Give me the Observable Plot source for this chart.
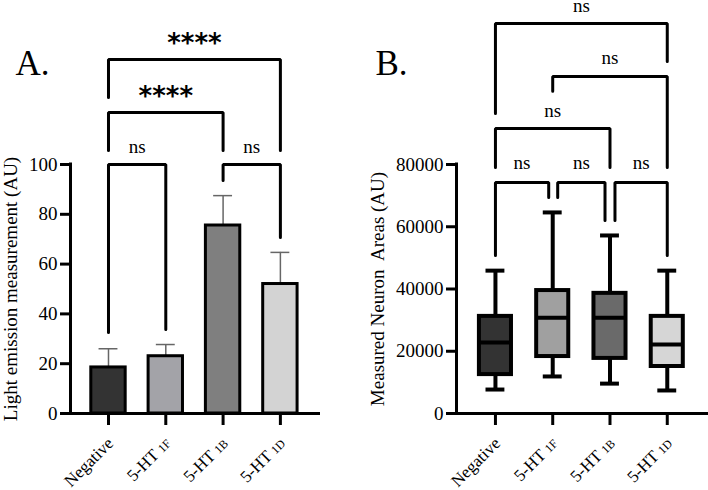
<!DOCTYPE html>
<html>
<head>
<meta charset="utf-8">
<script src="https://cdn.jsdelivr.net/npm/d3@7"></script>
<script src="https://cdn.jsdelivr.net/npm/@observablehq/plot@0.6"></script>
<style>
  body { margin: 0; background: #fff; }
  #wrap { display: flex; width: 708px; height: 490px; }
  svg { overflow: visible; }
</style>
</head>
<body>
<div id="wrap"></div>
<script>
// ---------- data ----------
const categories = ["Negative", "5-HT_1F", "5-HT_1B", "5-HT_1D"];

// Panel A: bar chart (mean + upper error)
const lightMean  = [18.5, 23, 75.5, 52];
const lightUpper = [26, 27.7, 87.5, 64.7];
const colorsA = ["#333333", "#a3a3a8", "#7f7f7f", "#d3d3d3"];
const yTicksA = [0, 20, 40, 60, 80, 100];

// Panel B: box plots
const areaMin = [7700, 11900, 9600, 7400];
const areaQ1  = [12500, 18300, 17700, 15100];
const areaMed = [22800, 30800, 30800, 22200];
const areaQ3  = [31200, 39500, 38600, 31200];
const areaMax = [45900, 64600, 57200, 45900];
const colorsB = ["#333333", "#a0a0a0", "#6a6a6a", "#d6d6d6"];
const yTicksB = [0, 20000, 40000, 60000, 80000];

// Significance brackets: [fromIndex, toIndex, top, legFrom, legTo, label, labelBaseline, offFrom, offTo]
const bracketsA = [
  [0, 1, 100, 32.5, 33.7, "ns", 104.8, 0, 0],
  [2, 3, 100, 93.6, 70.7, "ns", 104.8, 0, 0],
  [0, 2, 120.9, 105.6, 105.6, "****", 124.0, 0, 0],
  [0, 3, 142.2, 126.9, 105.6, "****", 145.2, 0, 0]
];
const bracketsB = [
  [0, 1, 74200, 50800, 69400, "ns", 78700, 0, -0.07],
  [1, 2, 74200, 69400, 62000, "ns", 78700, 0.087, -0.087],
  [2, 3, 74200, 62000, 50800, "ns", 78700, 0.087, 0],
  [0, 2, 91600, 79000, 79000, "ns", 95400, 0, 0],
  [1, 3, 108300, 103500, 79000, "ns", 112400, 0, 0],
  [0, 3, 125300, 96400, 113100, "ns", 129000, 0, 0]
];

// ---------- helpers ----------
const serif = "'Liberation Serif', 'Times New Roman', serif";

function bracketPoints(brs) {
  const pts = [];
  brs.forEach((b, k) => {
    const [f, t, top, lf, lt, , , of, ot] = b;
    pts.push({id: k, x: f + of, y: lf});
    pts.push({id: k, x: f + of, y: top});
    pts.push({id: k, x: t + ot, y: top});
    pts.push({id: k, x: t + ot, y: lt});
  });
  return pts;
}
function bracketLabels(brs) {
  return brs.map(b => ({x: (b[0] + b[7] + b[1] + b[8]) / 2, y: b[6], label: b[5]}));
}

function commonMarks(xDomain, yMax, yTicks, yLabel, labelDx, panelLetter, letterDx, brs) {
  const idx = categories.map((c, i) => i);
  const labels = bracketLabels(brs);
  return [
    Plot.axisY(yTicks, {tickSize: 10, strokeWidth: 3, fontSize: 19, tickPadding: 3, tickFormat: d => String(d), label: null}),
    Plot.axisX(idx, {tickSize: 12, strokeWidth: 3, tickFormat: () => "", label: null}),
    Plot.ruleX([xDomain[0]], {y1: 0, y2: yMax, strokeWidth: 3, strokeLinecap: "square"}),
    Plot.ruleY([0], {strokeWidth: 3}),
    Plot.text(idx, {x: d => d, y: 0, text: d => categories[d], rotate: -45, textAnchor: "end", lineAnchor: "middle",
      dx: 2, dy: 27, fontSize: 17, className: "xlab"}),
    Plot.line(bracketPoints(brs), {x: "x", y: "y", z: "id", stroke: "black", strokeWidth: 3, strokeLinejoin: "miter", curve: "linear"}),
    Plot.text(labels.filter(d => d.label === "ns"), {x: "x", y: "y", text: "label", lineAnchor: "bottom", fontSize: 19}),
    Plot.text(labels.filter(d => d.label !== "ns"), {x: "x", y: "y", text: "label", lineAnchor: "bottom", fontSize: 26,
      fontWeight: "bold", fontFamily: "'DejaVu Sans', sans-serif"}),
    Plot.text([yLabel], {frameAnchor: "left", rotate: -90, dx: labelDx, textAnchor: "middle", lineAnchor: "middle", fontSize: 19}),
    Plot.text([panelLetter], {frameAnchor: "top-left", dx: letterDx, dy: 74 - 164, textAnchor: "start", lineAnchor: "bottom", fontSize: 35})
  ];
}

// ---------- Panel A ----------
const dataA = categories.map((c, i) => ({i, mean: lightMean[i], upper: lightUpper[i], color: colorsA[i]}));
const xDomA = [-0.663, 3.70];
const plotA = Plot.plot({
  width: 354, height: 490,
  marginLeft: 70, marginRight: 34, marginTop: 164, marginBottom: 77,
  style: {fontFamily: serif, color: "black", background: "white", overflow: "visible"},
  x: {type: "linear", domain: xDomA, axis: null},
  y: {domain: [0, 100], axis: null},
  marks: [
    Plot.ruleX(dataA, {x: "i", y1: "mean", y2: "upper", stroke: "#666", strokeWidth: 1.5}),
    Plot.ruleY(dataA, {x1: d => d.i - 0.165, x2: d => d.i + 0.165, y: "upper", stroke: "#666", strokeWidth: 1.5}),
    Plot.rectY(dataA, {x1: d => d.i - 0.3, x2: d => d.i + 0.3, y1: 0, y2: "mean", fill: "color", stroke: "black", strokeWidth: 3}),
    ...commonMarks(xDomA, 100, yTicksA, "Light emission measurement (AU)", -60, "A.", 15 - 70, bracketsA)
  ]
});

// ---------- Panel B ----------
const dataB = categories.map((c, i) => ({i, min: areaMin[i], q1: areaQ1[i], med: areaMed[i], q3: areaQ3[i], max: areaMax[i], color: colorsB[i]}));
const xDomB = [-0.68, 3.72];
const plotB = Plot.plot({
  width: 354, height: 490,
  marginLeft: 102, marginRight: 0, marginTop: 164, marginBottom: 77,
  style: {fontFamily: serif, color: "black", background: "white", overflow: "visible"},
  x: {type: "linear", domain: xDomB, axis: null},
  y: {domain: [0, 80000], axis: null},
  marks: [
    Plot.ruleX(dataB, {x: "i", y1: "min", y2: "q1", strokeWidth: 4}),
    Plot.ruleX(dataB, {x: "i", y1: "q3", y2: "max", strokeWidth: 4}),
    Plot.ruleY(dataB, {x1: d => d.i - 0.165, x2: d => d.i + 0.165, y: "min", strokeWidth: 4}),
    Plot.ruleY(dataB, {x1: d => d.i - 0.165, x2: d => d.i + 0.165, y: "max", strokeWidth: 4}),
    Plot.rect(dataB, {x1: d => d.i - 0.28, x2: d => d.i + 0.28, y1: "q1", y2: "q3", fill: "color", stroke: "black", strokeWidth: 4}),
    Plot.ruleY(dataB, {x1: d => d.i - 0.28, x2: d => d.i + 0.28, y: "med", strokeWidth: 4}),
    ...commonMarks(xDomB, 80000, yTicksB, "Measured Neuron\u00a0 Areas (AU)", -78.5, "B.", 21 - 102, bracketsB)
  ]
});

const wrap = document.getElementById("wrap");
wrap.append(plotA, plotB);

// subscripts for receptor names
document.querySelectorAll(".xlab text").forEach(t => {
  const s = t.textContent;
  if (s.includes("_")) {
    const [main, sub] = s.split("_");
    t.textContent = "";
    const a = document.createElementNS("http://www.w3.org/2000/svg", "tspan");
    a.textContent = main + " ";
    const b = document.createElementNS("http://www.w3.org/2000/svg", "tspan");
    b.textContent = sub;
    b.setAttribute("font-size", "12");
    t.append(a, b);
  }
});
</script>
</body>
</html>
